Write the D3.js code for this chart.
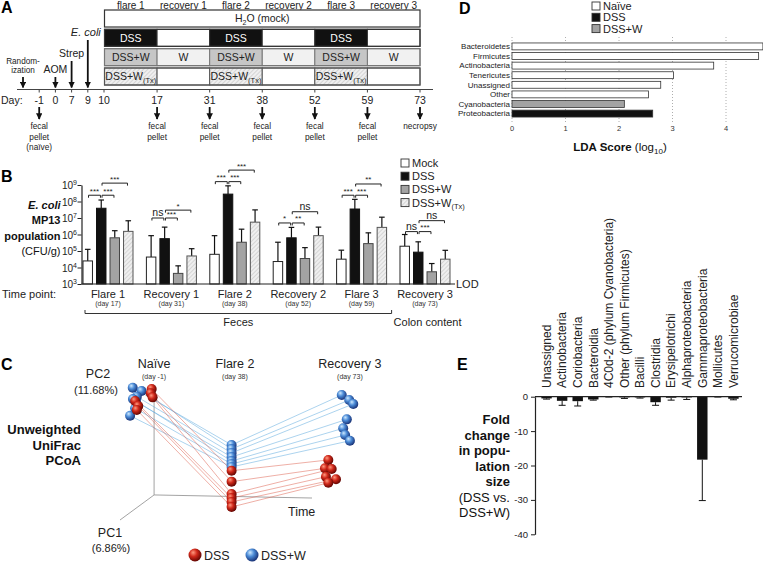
<!DOCTYPE html>
<html><head><meta charset="utf-8">
<script src="https://cdn.jsdelivr.net/npm/d3@7"></script>
<style>body{margin:0;background:#fff}svg{font-family:"Liberation Sans",Arial,sans-serif}</style>
</head><body><svg id="c" width="763" height="563"></svg>
<script>
// ================= DATA =================
// Panel A (schedule)
const periods = ["flare 1","recovery 1","flare 2","recovery 2","flare 3","recovery 3"];
const preSlots = ["rand","-1","0","7","9","10"];
const periodDays = ["10","17","31","38","52","59","73"];
const rowNames = ["mock","dss","dssw","tx"];
const dssRow = ["DSS","","DSS","","DSS",""];
const dsswRow = ["DSS+W","W","DSS+W","W","DSS+W","W"];
const txRow = ["DSS+W","","DSS+W","","DSS+W",""];
const topEvents = [{slot:"rand",lines:["Random-","ization"],top:77,italic:false,size:8.2},
                   {slot:"0",lines:["AOM"],top:77,italic:false,size:10.5},
                   {slot:"7",lines:["Strep"],top:61,italic:false,size:10.5},
                   {slot:"9",lines:["E. coli"],top:40,italic:true,size:11}];
const sampleDays = ["-1","17","31","38","52","59","73"];
const sampleLabels = [["fecal","pellet","(naïve)"],["fecal","pellet"],["fecal","pellet"],["fecal","pellet"],["fecal","pellet"],["fecal","pellet"],["necropsy"]];

// Panel B (CFU/g)
const bGroups = ["Flare 1","Recovery 1","Flare 2","Recovery 2","Flare 3","Recovery 3"];
const bDays = ["(day 17)","(day 31)","(day 38)","(day 52)","(day 59)","(day 73)"];
const bSeries = ["Mock","DSS","DSS+W","DSS+W(Tx)"];
const mockVals = [2.5e4, 4.3e4, 6.3e4, 2.3e4, 3.2e4, 1.95e5];
const mockErr  = [1.26e5, 8.5e5, 8.5e5, 3.4e5, 1.12e5, 1.0e6];
const dssVals  = [3.9e7, 5.6e5, 2.8e8, 6.3e5, 3.5e7, 8.5e4];
const dssErr   = [1.23e8, 2.8e6, 8.9e8, 2.7e6, 1.35e8, 3.6e5];
const dsswVals = [6.3e5, 4.4e3, 3.4e5, 3.5e4, 2.8e5, 5.5e3];
const dsswErr  = [1.7e6, 1.26e4, 2.1e6, 1.6e5, 1.26e6, 1.74e4];
const txVals   = [1.55e6, 5.0e4, 5.6e6, 8.5e5, 2.7e6, 3.2e4];
const txErr    = [6.8e6, 1.38e5, 3.1e7, 2.8e6, 1.12e7, 1.1e5];
const bTicks = [1e3,1e4,1e5,1e6,1e7,1e8,1e9];
// significance brackets: group, from series, to series, level (CFU/g), label
const bSig = [
  [0,"Mock","DSS",2.4e8,"***"],[0,"DSS","DSS+W",2.4e8,"***"],[0,"DSS","DSS+W(Tx)",1.3e9,"***"],
  [1,"Mock","DSS",1.0e7,"ns"],[1,"DSS","DSS+W",1.0e7,"***"],[1,"DSS","DSS+W(Tx)",3.0e7,"*"],
  [2,"Mock","DSS",1.6e9,"***"],[2,"DSS","DSS+W",1.6e9,"***"],[2,"DSS","DSS+W(Tx)",8.0e9,"***"],
  [3,"Mock","DSS",5.0e6,"*"],[3,"DSS","DSS+W",5.0e6,"**"],[3,"DSS","DSS+W(Tx)",2.4e7,"ns"],
  [4,"Mock","DSS",2.4e8,"***"],[4,"DSS","DSS+W",2.4e8,"***"],[4,"DSS","DSS+W(Tx)",1.15e9,"**"],
  [5,"Mock","DSS",1.5e6,"ns"],[5,"DSS","DSS+W",1.5e6,"***"],[5,"DSS","DSS+W(Tx)",6.9e6,"ns"]
];

// Panel C (PCoA projection, arbitrary units 0-100)
const naiveW = [[5.3,94.5],[9.0,92.1],[7.0,88.1],[6.7,84.5],[5.4,86.4],[6.3,79.8],[4.2,74.5]];
const naiveD = [[13.2,93.6],[12.8,90.5],[13.6,87.6],[6.3,85.0],[7.6,81.4],[7.0,78.6]];
const flareW = [[46.5,53.6],[46.5,50.7],[46.5,47.9],[46.5,45.0],[46.5,42.1],[46.5,40.0],[46.5,37.9]];
const flareD = [[46.5,35.2],[46.5,27.4],[46.5,18.6],[46.5,15.7],[46.5,12.9],[46.5,9.3]];
const recW = [[92.4,89.3],[95.5,85.7],[97.2,82.9],[94.5,71.9],[93.0,65.5],[93.8,60.7],[95.8,56.6]];
const recD = [[86.8,42.9],[85.4,36.9],[88.2,36.4],[85.8,30.9],[90.0,29.1],[86.8,26.6]];
const cTimes = [{t:"Naïve",d:"(day -1)",x:14.2},{t:"Flare 2",d:"(day 38)",x:47.9},{t:"Recovery 3",d:"(day 73)",x:95.8}];
const cAxisOrigin = [14.2,17.9], cAxisTop = [14.2,87.1], cAxisTime = [80,15.7], cAxisPC1 = [0,0];

// Panel D (LDA)
const ldaTaxa = ["Bacteroidetes","Firmicutes","Actinobacteria","Tenericutes","Unassigned","Other","Cyanobacteria","Proteobacteria"];
const ldaScore = [4.69, 4.61, 3.77, 3.02, 2.78, 2.55, 2.10, 2.63];
const ldaGroup = ["Naïve","Naïve","Naïve","Naïve","Naïve","Naïve","DSS+W","DSS"];
const ldaLegend = ["Naïve","DSS","DSS+W"];
const ldaTicks = [0,1,2,3,4];

// Panel E (fold change)
const eTaxa = ["Unassigned","Actinobacteria","Coriobacteria","Bacteroidia","4C0d-2 (phylum Cyanobacteria)","Other (phylum Firmicutes)","Bacilli","Clostridia","Erysipelotrichi","Alphaproteobacteria","Gammaproteobacteria","Mollicutes","Verrucomicrobiae"];
const eVals = [-0.5,-1.2,-1.3,-0.8,-0.05,-0.2,-0.2,-1.6,-0.3,-0.2,-18.3,-0.05,-0.6];
const eErr  = [-0.7,-2.5,-2.7,-1.0,-0.1,-0.5,-0.4,-2.5,-1.0,-0.8,-30.2,-0.1,-0.9];
const eTicks = [0,-10,-20,-30,-40];

// ================= DRAW =================
const svg = d3.select("#c");
const defs = svg.append("defs");
const pat = defs.append("pattern").attr("id","hatch").attr("width",3).attr("height",3)
  .attr("patternUnits","userSpaceOnUse").attr("patternTransform","rotate(45)");
pat.append("rect").attr("width",3).attr("height",3).attr("fill","#efefef");
pat.append("line").attr("x1",0).attr("y1",0).attr("x2",0).attr("y2",3).attr("stroke","#b5b5b5").attr("stroke-width",0.9);
defs.append("marker").attr("id","arr").attr("viewBox","0 0 10 10").attr("refX",9).attr("refY",5)
  .attr("markerWidth",3.6).attr("markerHeight",3.6).attr("orient","auto")
  .append("path").attr("d","M0,0L10,5L0,10z").attr("fill","#111");
function grad(id, c0, c1, c2){
  const g = defs.append("radialGradient").attr("id",id).attr("cx","40%").attr("cy","38%").attr("r","65%").attr("fx","35%").attr("fy","30%");
  g.append("stop").attr("offset","0%").attr("stop-color",c0);
  g.append("stop").attr("offset","45%").attr("stop-color",c1);
  g.append("stop").attr("offset","100%").attr("stop-color",c2);
}
grad("gRed","#ff9a80","#d0281a","#5a0300");
grad("gBlue","#cfeaff","#4a8ad6","#152c70");

function letter(t,x,y){ svg.append("text").attr("x",x).attr("y",y).attr("font-size",16).attr("font-weight","bold").text(t); }
letter("A",1,13); letter("B",1,182); letter("C",1,370); letter("D",459,14); letter("E",457,370);

// ---------- Panel A ----------
const gA = svg.append("g");
const xPre = d3.scalePoint().domain(preSlots).range([23,104]);
const xPer = d3.scalePoint().domain(periodDays).range([104.5,420]);
const rowY = d3.scaleBand().domain(rowNames).range([10,85]).paddingInner(0.12);
const segs = periods.map((p,i)=>({p,i,x0:xPer(periodDays[i]),x1:xPer(periodDays[i+1])}));
gA.selectAll("text.per").data(segs).join("text").attr("x",d=>(d.x0+d.x1)/2).attr("y",8.5)
  .attr("text-anchor","middle").attr("font-size",10).attr("fill","#222").text(d=>d.p);
const xL = xPer(periodDays[0]), xR = xPer(periodDays[6]);
// row 1
gA.append("rect").attr("x",xL).attr("y",rowY("mock")).attr("width",xR-xL).attr("height",rowY.bandwidth())
  .attr("fill","#fff").attr("stroke","#333").attr("stroke-width",1.2);
const h2o = gA.append("text").attr("x",(xL+xR)/2).attr("y",rowY("mock")+rowY.bandwidth()/2+3.6).attr("text-anchor","middle").attr("font-size",10.5).attr("fill","#222");
h2o.append("tspan").text("H"); h2o.append("tspan").attr("font-size",7).attr("dy",2.5).text("2"); h2o.append("tspan").attr("dy",-2.5).text("O (mock)");
// rows 2-4
function segRow(name, labels, fillOn, fillOff, txtOn, stroke, sub){
  const y = rowY(name), h = rowY.bandwidth();
  gA.selectAll(null).data(segs).join("rect").attr("x",d=>d.x0).attr("y",y).attr("width",d=>d.x1-d.x0).attr("height",h)
    .attr("fill",d=>labels[d.i] && d.i%2===0 ? fillOn : fillOff).attr("stroke",stroke).attr("stroke-width",1);
  gA.append("rect").attr("x",xL).attr("y",y).attr("width",xR-xL).attr("height",h).attr("fill","none").attr("stroke",stroke).attr("stroke-width",1.2);
  segs.forEach(d=>{
    if(!labels[d.i]) return;
    const t = gA.append("text").attr("x",(d.x0+d.x1)/2).attr("y",y+h/2+3.7).attr("text-anchor","middle").attr("font-size",10.5)
      .attr("fill", d.i%2===0 ? txtOn : "#222").text(labels[d.i]);
    if(sub && d.i%2===0){ t.append("tspan").attr("font-size",7.5).attr("dy",2.5).text("(Tx)"); }
  });
}
segRow("dss", dssRow, "#111", "#fff", "#fff", "#333", false);
segRow("dssw", dsswRow, "#c6c6c6", "#f1f1f1", "#222", "#777", false);
segRow("tx", txRow, "url(#hatch)", "#fff", "#222", "#555", true);
// day axis
const axY = 89.5;
gA.append("line").attr("x1",17).attr("x2",433).attr("y1",axY).attr("y2",axY).attr("stroke","#444").attr("stroke-width",1.2);
const dayPos = [...preSlots.slice(1).map(d=>({d,x:xPre(d)})), ...periodDays.slice(1).map(d=>({d,x:xPer(d)}))];
gA.selectAll("line.tk").data(dayPos).join("line").attr("x1",d=>d.x).attr("x2",d=>d.x).attr("y1",axY).attr("y2",axY+3).attr("stroke","#444");
gA.selectAll("text.day").data(dayPos).join("text").attr("x",d=>d.x).attr("y",104).attr("text-anchor","middle").attr("font-size",10.5).attr("fill","#222").text(d=>d.d);
gA.append("text").attr("x",1).attr("y",104).attr("font-size",10.5).attr("fill","#222").text("Day:");
// top arrows
topEvents.forEach(e=>{
  const x = xPre(e.slot);
  gA.append("line").attr("x1",x).attr("x2",x).attr("y1",e.top).attr("y2",axY-2).attr("stroke","#111").attr("stroke-width",1.8).attr("marker-end","url(#arr)");
  e.lines.forEach((l,i)=>{
    const n = e.lines.length;
    gA.append("text").attr("x", e.italic ? x-2 : x).attr("y", e.top-4-(n-1-i)*9).attr("text-anchor","middle")
      .attr("font-size",e.size).attr("font-style",e.italic?"italic":"normal").attr("fill","#222").text(l);
  });
});
// bottom arrows
sampleDays.forEach((d,i)=>{
  const x = d==="-1" ? xPre(d) : xPer(d);
  gA.append("line").attr("x1",x).attr("x2",x).attr("y1",107).attr("y2",119).attr("stroke","#111").attr("stroke-width",1.8).attr("marker-end","url(#arr)");
  sampleLabels[i].forEach((l,j)=>{
    gA.append("text").attr("x",x).attr("y",129+j*10.5).attr("text-anchor","middle").attr("font-size",8.3).attr("fill","#222").text(l);
  });
});

// ---------- Panel B ----------
const gB = svg.append("g");
const yB = d3.scaleLog().domain([1e3,1e9]).range([284,185]);
const xBg = d3.scalePoint().domain(bGroups).range([108,425]);
const xBs = d3.scaleBand().domain(bSeries).range([-25,25]).paddingInner(0.3);
const bVals = {"Mock":mockVals,"DSS":dssVals,"DSS+W":dsswVals,"DSS+W(Tx)":txVals};
const bErrs = {"Mock":mockErr,"DSS":dssErr,"DSS+W":dsswErr,"DSS+W(Tx)":txErr};
const bFill = {"Mock":"#fff","DSS":"#111","DSS+W":"#a3a3a3","DSS+W(Tx)":"url(#hatch)"};
const bStroke = {"Mock":"#222","DSS":"#111","DSS+W":"#444","DSS+W(Tx)":"#555"};
const bData = [];
bGroups.forEach((g,gi)=>bSeries.forEach(s=>bData.push({g,gi,s,v:bVals[s][gi],e:bErrs[s][gi]})));
const bx = d=>xBg(d.g)+xBs(d.s);
// error bars
gB.selectAll("line.eb").data(bData).join("line").attr("x1",d=>bx(d)+xBs.bandwidth()/2).attr("x2",d=>bx(d)+xBs.bandwidth()/2)
  .attr("y1",d=>yB(d.v)).attr("y2",d=>yB(d.e)).attr("stroke","#111").attr("stroke-width",1.2);
gB.selectAll("line.cap").data(bData).join("line").attr("x1",d=>bx(d)+xBs.bandwidth()/2-2.8).attr("x2",d=>bx(d)+xBs.bandwidth()/2+2.8)
  .attr("y1",d=>yB(d.e)).attr("y2",d=>yB(d.e)).attr("stroke","#111").attr("stroke-width",1.2);
gB.selectAll("rect.bar").data(bData).join("rect").attr("x",bx).attr("width",xBs.bandwidth())
  .attr("y",d=>yB(d.v)).attr("height",d=>yB(1e3)-yB(d.v)).attr("fill",d=>bFill[d.s]).attr("stroke",d=>bStroke[d.s]).attr("stroke-width",1);
// axis
const axB = gB.append("g").attr("transform","translate(81.5,0)").call(d3.axisLeft(yB).tickValues(bTicks).tickSize(4).tickSizeOuter(0).tickFormat(""));
axB.select(".domain").attr("stroke","#222").attr("stroke-width",1.2);
axB.selectAll(".tick line").attr("stroke","#222");
axB.selectAll(".tick").append("text").attr("x",-4.5).attr("dy","0.38em").attr("text-anchor","end").attr("fill","#222").attr("font-size",10)
  .each(function(d){ const t=d3.select(this); t.append("tspan").text("10"); t.append("tspan").attr("font-size",7).attr("dy",-4).text(Math.round(Math.log10(d))); });
gB.append("line").attr("x1",81.5).attr("x2",455).attr("y1",yB(1e3)).attr("y2",yB(1e3)).attr("stroke","#222").attr("stroke-width",1.2);
gB.append("text").attr("x",456).attr("y",yB(1e3)+4).attr("font-size",11).attr("fill","#222").text("LOD");
// y title
const yT = [["E. coli",true,true],["MP13",true,false],["population",true,false],["(CFU/g)",false,false]];
yT.forEach((t,i)=>gB.append("text").attr("x",60.5).attr("y",209+i*15.3).attr("text-anchor","end").attr("font-size",11)
  .attr("font-weight",t[1]?"bold":"normal").attr("font-style",t[2]?"italic":"normal").attr("fill","#111").text(t[0]));
// x labels
gB.selectAll("text.gl").data(bGroups).join("text").attr("x",d=>xBg(d)).attr("y",297.5).attr("text-anchor","middle").attr("font-size",11).attr("fill","#222").text(d=>d);
gB.selectAll("text.gd").data(bDays).join("text").attr("x",(d,i)=>xBg(bGroups[i])).attr("y",306).attr("text-anchor","middle").attr("font-size",7).attr("fill","#333").text(d=>d);
gB.append("text").attr("x",2).attr("y",297.5).attr("font-size",11).attr("fill","#222").text("Time point:");
const fL = xBg(bGroups[0])-23, fR = xBg(bGroups[4])+30;
gB.append("path").attr("d",`M${fL},${310}V${313.5}H${fR}V${310}`).attr("fill","none").attr("stroke","#333").attr("stroke-width",1);
gB.append("text").attr("x",(fL+fR)/2).attr("y",326).attr("text-anchor","middle").attr("font-size",11).attr("fill","#222").text("Feces");
gB.append("text").attr("x",fR+2).attr("y",326).attr("font-size",11).attr("fill","#222").text("Colon content");
// significance
bSig.forEach(s=>{
  const g = bGroups[s[0]];
  const xa = xBg(g)+xBs(s[1])+xBs.bandwidth()/2+0.8, xb = xBg(g)+xBs(s[2])+xBs.bandwidth()/2-0.8, y = yB(s[3]);
  gB.append("path").attr("d",`M${xa},${y+2.5}V${y}H${xb}V${y+2.5}`).attr("fill","none").attr("stroke","#222").attr("stroke-width",1);
  gB.append("text").attr("x",(xa+xb)/2).attr("y", s[4]==="ns" ? y-2 : y-1.5).attr("text-anchor","middle")
    .attr("font-size", s[4]==="ns"?10.5:8).attr("fill","#222").text(s[4]);
});
// legend
bSeries.forEach((s,i)=>{
  const y = 163+i*13.2;
  gB.append("rect").attr("x",401).attr("y",y-4).attr("width",8).attr("height",8).attr("fill",bFill[s]).attr("stroke","#333").attr("stroke-width",0.9);
  const t = gB.append("text").attr("x",412).attr("y",y+4).attr("font-size",11).attr("fill","#222");
  if(s==="DSS+W(Tx)"){ t.append("tspan").text("DSS+W"); t.append("tspan").attr("font-size",7.5).attr("dy",2.5).text("(Tx)"); }
  else t.text(s);
});

// ---------- Panel C ----------
const gC = svg.append("g");
const xC = d3.scaleLinear().domain([0,100]).range([120,360]);
const yC = d3.scaleLinear().domain([0,100]).range([520,380]);
const P = p=>[xC(p[0]),yC(p[1])];
const axC = [[cAxisOrigin,cAxisTop],[cAxisOrigin,cAxisTime],[cAxisOrigin,cAxisPC1]];
axC.forEach(a=>gC.append("line").attr("x1",P(a[0])[0]).attr("y1",P(a[0])[1]).attr("x2",P(a[1])[0]).attr("y2",P(a[1])[1]).attr("stroke","#999").attr("stroke-width",0.9));
const lineC = d3.line().x(d=>xC(d[0])).y(d=>yC(d[1]));
naiveW.forEach((p,i)=>gC.append("path").attr("d",lineC([p,flareW[i],recW[i]])).attr("fill","none").attr("stroke","#5aa8de").attr("stroke-width",0.6).attr("opacity",0.85));
naiveD.forEach((p,i)=>gC.append("path").attr("d",lineC([p,flareD[i],recD[i]])).attr("fill","none").attr("stroke","#dd6050").attr("stroke-width",0.6).attr("opacity",0.85));
const spheres = [];
naiveW.forEach(p=>spheres.push([p,"gBlue"])); naiveD.forEach(p=>spheres.push([p,"gRed"]));
flareW.forEach(p=>spheres.push([p,"gBlue"])); flareD.forEach(p=>spheres.push([p,"gRed"]));
recW.forEach(p=>spheres.push([p,"gBlue"])); recD.forEach(p=>spheres.push([p,"gRed"]));
gC.selectAll("circle.sp").data(spheres).join("circle").attr("cx",d=>xC(d[0][0])).attr("cy",d=>yC(d[0][1])).attr("r",5)
  .attr("fill",d=>`url(#${d[1]})`);
cTimes.forEach(t=>{
  gC.append("text").attr("x",xC(t.x)).attr("y",368).attr("text-anchor","middle").attr("font-size",12.5).attr("fill","#222").text(t.t);
  gC.append("text").attr("x",xC(t.x)).attr("y",379).attr("text-anchor","middle").attr("font-size",7).attr("fill","#333").text(t.d);
});
gC.append("text").attr("x",98).attr("y",378).attr("text-anchor","middle").attr("font-size",12.5).attr("fill","#222").text("PC2");
gC.append("text").attr("x",96).attr("y",394).attr("text-anchor","middle").attr("font-size",11).attr("fill","#222").text("(11.68%)");
gC.append("text").attr("x",110).attr("y",537).attr("text-anchor","middle").attr("font-size",12.5).attr("fill","#222").text("PC1");
gC.append("text").attr("x",111).attr("y",552).attr("text-anchor","middle").attr("font-size",11).attr("fill","#222").text("(6.86%)");
gC.append("text").attr("x",288).attr("y",516).attr("font-size",12.5).attr("fill","#222").text("Time");
["Unweighted","UniFrac","PCoA"].forEach((t,i)=>gC.append("text").attr("x",81).attr("y",434+i*15.5).attr("text-anchor","end")
  .attr("font-size",13).attr("font-weight","bold").attr("fill","#111").text(t));
[["DSS","gRed",195],["DSS+W","gBlue",252]].forEach(l=>{
  gC.append("circle").attr("cx",l[2]).attr("cy",555).attr("r",6.5).attr("fill",`url(#${l[1]})`);
  gC.append("text").attr("x",l[2]+9).attr("y",559.5).attr("font-size",12.5).attr("fill","#222").text(l[0]);
});

// ---------- Panel D ----------
const gD = svg.append("g");
const xD = d3.scaleLinear().domain([0,4]).range([512,726]);
const yD = d3.scaleBand().domain(ldaTaxa).range([42,118]).paddingInner(0.28).paddingOuter(0.1);
gD.selectAll("line.gr").data(ldaTicks).join("line").attr("x1",d=>xD(d)).attr("x2",d=>xD(d)).attr("y1",37).attr("y2",123)
  .attr("stroke","#999").attr("stroke-width",0.8).attr("stroke-dasharray","1,2");
const ldaFill = {"Naïve":"#fff","DSS":"#111","DSS+W":"#a3a3a3"};
gD.selectAll("rect.lb").data(ldaTaxa).join("rect").attr("x",xD(0)).attr("y",d=>yD(d)).attr("height",yD.bandwidth())
  .attr("width",(d,i)=>xD(ldaScore[i])-xD(0)).attr("fill",(d,i)=>ldaFill[ldaGroup[i]]).attr("stroke","#333").attr("stroke-width",0.8);
gD.selectAll("text.lt").data(ldaTaxa).join("text").attr("x",510).attr("y",d=>yD(d)+yD.bandwidth()/2+2.8).attr("text-anchor","end")
  .attr("font-size",8).attr("fill","#222").text(d=>d);
gD.selectAll("text.tk").data(ldaTicks).join("text").attr("x",d=>xD(d)).attr("y",131).attr("text-anchor","middle").attr("font-size",7.5).attr("fill","#333").text(d=>d);
const ldt = gD.append("text").attr("x",620).attr("y",151).attr("text-anchor","middle").attr("font-size",11.5).attr("fill","#111");
ldt.append("tspan").attr("font-weight","bold").text("LDA Score"); ldt.append("tspan").text(" (log"); ldt.append("tspan").attr("font-size",8).attr("dy",2.5).text("10"); ldt.append("tspan").attr("dy",-2.5).text(")");
ldaLegend.forEach((l,i)=>{
  const y = 6+i*11.3;
  gD.append("rect").attr("x",592).attr("y",y-4).attr("width",8).attr("height",8).attr("fill",ldaFill[l]).attr("stroke","#333").attr("stroke-width",0.9);
  gD.append("text").attr("x",603).attr("y",y+4).attr("font-size",11).attr("fill","#222").text(l);
});

// ---------- Panel E ----------
const gE = svg.append("g");
const xE = d3.scaleBand().domain(eTaxa).range([539,741]).paddingInner(0.33).paddingOuter(0.15);
const yE = d3.scaleLinear().domain([-40,0]).range([534.3,396.7]);
const axE = gE.append("g").attr("transform","translate(535,0)").call(d3.axisLeft(yE).tickValues(eTicks).tickSize(4).tickSizeOuter(0).tickFormat(d=>d));
axE.select(".domain").attr("stroke","#222").attr("stroke-width",1.2);
axE.selectAll(".tick line").attr("stroke","#222");
axE.selectAll(".tick text").attr("font-size",9.5).attr("fill","#222").attr("font-family","Liberation Sans, Arial, sans-serif");
gE.selectAll("rect.eb").data(eTaxa).join("rect").attr("x",d=>xE(d)).attr("width",xE.bandwidth()).attr("y",yE(0))
  .attr("height",(d,i)=>yE(eVals[i])-yE(0)).attr("fill","#111");
gE.selectAll("line.ee").data(eTaxa).join("line").attr("x1",d=>xE(d)+xE.bandwidth()/2).attr("x2",d=>xE(d)+xE.bandwidth()/2)
  .attr("y1",(d,i)=>yE(eVals[i])).attr("y2",(d,i)=>yE(eErr[i])).attr("stroke","#111").attr("stroke-width",1);
gE.selectAll("line.ec").data(eTaxa).join("line").attr("x1",d=>xE(d)+xE.bandwidth()/2-3.5).attr("x2",d=>xE(d)+xE.bandwidth()/2+3.5)
  .attr("y1",(d,i)=>yE(eErr[i])).attr("y2",(d,i)=>yE(eErr[i])).attr("stroke","#111").attr("stroke-width",1);
gE.append("line").attr("x1",535).attr("x2",742).attr("y1",yE(0)).attr("y2",yE(0)).attr("stroke","#222").attr("stroke-width",1.2);
gE.selectAll("text.el").data(eTaxa).join("text").attr("transform",d=>`translate(${xE(d)+xE.bandwidth()/2+4.3},388) rotate(-90)`)
  .attr("font-size",12).attr("fill","#222").text(d=>d);
const eT = [["Fold",true],["change",true],["in popu-",true],["lation",true],["size",true],["(DSS vs.",false],["DSS+W)",false]];
eT.forEach((t,i)=>gE.append("text").attr("x",510).attr("y",424+i*15.5).attr("text-anchor","end").attr("font-size",13)
  .attr("font-weight",t[1]?"bold":"normal").attr("fill","#111").text(t[0]));
</script></body></html>
